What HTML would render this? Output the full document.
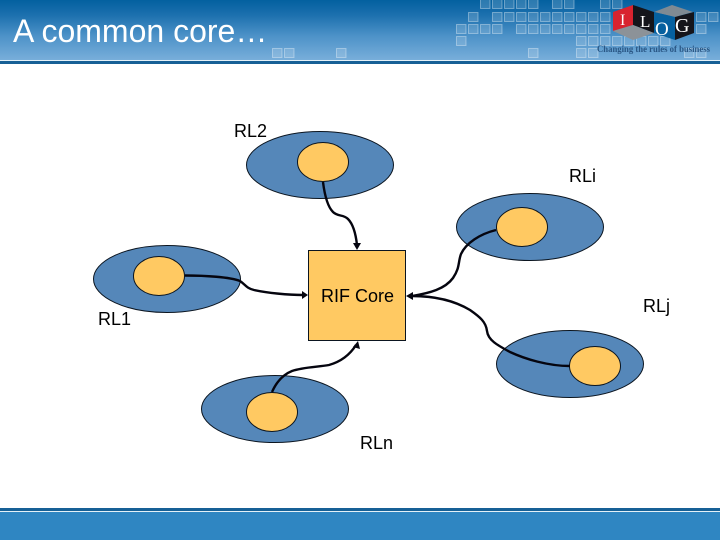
<!DOCTYPE html>
<html>
<head>
<meta charset="utf-8">
<style>
html,body{margin:0;padding:0;background:#fff}
svg{display:block}
text{font-family:"Liberation Sans",sans-serif}
.s{font-family:"Liberation Serif",serif}
</style>
</head>
<body>
<svg width="720" height="540" viewBox="0 0 720 540" xmlns="http://www.w3.org/2000/svg">
<defs>
<linearGradient id="h" x1="0" y1="0" x2="0" y2="1">
<stop offset="0" stop-color="#03609f"/>
<stop offset="0.25" stop-color="#1c70ae"/>
<stop offset="0.6" stop-color="#4d92c8"/>
<stop offset="1" stop-color="#78aeda"/>
</linearGradient>
</defs>
<rect width="720" height="60" fill="url(#h)"/>
<rect y="60" width="720" height="1" fill="#e4f1f8"/>
<rect y="61" width="720" height="3" fill="#176096"/>
<g fill="#fff" fill-opacity="0.16" stroke="#fff" stroke-opacity="0.35">
<rect x="272.5" y="48.5" width="9.5" height="9"/><rect x="284.5" y="48.5" width="9.5" height="9"/><rect x="336.5" y="48.5" width="9.5" height="9"/>
<rect x="480.5" y="-1" width="9.5" height="9.5"/><rect x="492.5" y="-1" width="9.5" height="9.5"/><rect x="504.5" y="-1" width="9.5" height="9.5"/><rect x="516.5" y="-1" width="9.5" height="9.5"/><rect x="528.5" y="-1" width="9.5" height="9.5"/><rect x="552.5" y="-1" width="9.5" height="9.5"/><rect x="564.5" y="-1" width="9.5" height="9.5"/><rect x="600.5" y="-1" width="9.5" height="9.5"/><rect x="612.5" y="-1" width="9.5" height="9.5"/>
<rect x="468.5" y="12.5" width="9.5" height="9"/><rect x="492.5" y="12.5" width="9.5" height="9"/><rect x="504.5" y="12.5" width="9.5" height="9"/><rect x="516.5" y="12.5" width="9.5" height="9"/><rect x="528.5" y="12.5" width="9.5" height="9"/><rect x="540.5" y="12.5" width="9.5" height="9"/><rect x="552.5" y="12.5" width="9.5" height="9"/><rect x="564.5" y="12.5" width="9.5" height="9"/><rect x="576.5" y="12.5" width="9.5" height="9"/><rect x="588.5" y="12.5" width="9.5" height="9"/><rect x="600.5" y="12.5" width="9.5" height="9"/>
<rect x="456.5" y="24.5" width="9.5" height="9"/><rect x="468.5" y="24.5" width="9.5" height="9"/><rect x="480.5" y="24.5" width="9.5" height="9"/><rect x="492.5" y="24.5" width="9.5" height="9"/><rect x="516.5" y="24.5" width="9.5" height="9"/><rect x="528.5" y="24.5" width="9.5" height="9"/><rect x="540.5" y="24.5" width="9.5" height="9"/><rect x="552.5" y="24.5" width="9.5" height="9"/><rect x="564.5" y="24.5" width="9.5" height="9"/><rect x="576.5" y="24.5" width="9.5" height="9"/><rect x="588.5" y="24.5" width="9.5" height="9"/><rect x="600.5" y="24.5" width="9.5" height="9"/>
<rect x="456.5" y="36.5" width="9.5" height="9"/><rect x="576.5" y="36.5" width="9.5" height="9"/><rect x="588.5" y="36.5" width="9.5" height="9"/><rect x="600.5" y="36.5" width="9.5" height="9"/><rect x="612.5" y="36.5" width="9.5" height="9"/><rect x="624.5" y="36.5" width="9.5" height="9"/><rect x="636.5" y="36.5" width="9.5" height="9"/><rect x="648.5" y="36.5" width="9.5" height="9"/><rect x="660.5" y="36.5" width="9.5" height="9"/>
<rect x="528.5" y="48.5" width="9.5" height="9"/><rect x="576.5" y="48.5" width="9.5" height="9"/><rect x="588.5" y="48.5" width="9.5" height="9"/><rect x="684.5" y="48.5" width="9.5" height="9"/><rect x="696.5" y="48.5" width="9.5" height="9"/>
<rect x="696.5" y="12.5" width="9.5" height="9"/><rect x="708.5" y="12.5" width="9.5" height="9"/><rect x="696.5" y="24.5" width="9.5" height="9"/>
</g>
<!-- logo -->
<polygon points="613,12 633,5 633,25 613,31" fill="#d8232f"/>
<polygon points="633,5 654,12 654,33 633,25" fill="#15151b"/>
<polygon points="654,12 672,5 693,12 675,17" fill="#7f8a93"/>
<polygon points="654,12 675,17 675,40 654,33" fill="#06609f"/>
<polygon points="675,17 694,12 694,33 675,40" fill="#15151b"/>
<polygon points="613,31 633,25 654,33 633,40" fill="#8c9298"/>
<text class="s" x="620" y="25" font-size="16" fill="#fff">I</text>
<text class="s" x="640" y="27" font-size="17" fill="#fff">L</text>
<text class="s" x="655" y="35" font-size="19" fill="#fff">O</text>
<text class="s" x="675" y="32" font-size="20" fill="#fff">G</text>
<text class="s" x="597" y="52" font-size="9" font-weight="bold" fill="#2a5785" textLength="113" lengthAdjust="spacingAndGlyphs">Changing the rules of business</text>

<text x="13" y="42" font-size="32" fill="#fff">A common core…</text>

<rect y="508" width="720" height="3" fill="#176096"/>
<rect y="511" width="720" height="1" fill="#e4f1f8"/>
<rect y="512" width="720" height="28" fill="#2f86c2"/>

<g fill="#5587b9" stroke="#0b1520" stroke-width="1">
<ellipse cx="320" cy="165" rx="73.5" ry="33.5"/>
<ellipse cx="530" cy="227" rx="73.5" ry="33.5"/>
<ellipse cx="167" cy="279" rx="73.5" ry="33.5"/>
<ellipse cx="275" cy="409" rx="73.5" ry="33.5"/>
<ellipse cx="570" cy="364" rx="73.5" ry="33.5"/>
</g>
<g fill="#ffc962" stroke="#0b1520" stroke-width="1">
<ellipse cx="323" cy="162" rx="25.5" ry="19.5"/>
<ellipse cx="522" cy="227" rx="25.5" ry="19.5"/>
<ellipse cx="159" cy="276" rx="25.5" ry="19.5"/>
<ellipse cx="272" cy="412" rx="25.5" ry="19.5"/>
<ellipse cx="595" cy="366" rx="25.5" ry="19.5"/>
<rect x="308.5" y="250.5" width="97" height="90"/>
</g>

<g fill="none" stroke="#05050f" stroke-width="2.4">
<path d="M323 182C325 198 328 207 333 212C338 217 343 214 348 219C354 225 356 236 357 245"/>
<path d="M185 275.5C205 275.5 230 277 240 281C246 285 246 288 254 290C268 293 288 295 303 295"/>
<path d="M272 392C276 383 282 375 292 371C303 367 318 367 329 365C343 361 351 353 356 345"/>
<path d="M496 230C480 234 466 243 461 254C458 262 460 268 453 278C445 289 430 293 412 296"/>
<path d="M570 366C548 366 525 359 510 352C497 345 488 340 487 331C486 322 480 317 470 310C455 301 435 296 412 296"/>
</g>
<g fill="#05050f">
<polygon points="357,250 353,243 361,243"/>
<polygon points="308,295 302,291 302,299"/>
<polygon points="358,341 353,347 360,349"/>
<polygon points="406,296 413,292 413,300"/>
</g>

<g font-size="18" fill="#000">
<text x="234" y="137">RL2</text>
<text x="569" y="182">RLi</text>
<text x="98" y="325">RL1</text>
<text x="321" y="302">RIF Core</text>
<text x="643" y="312">RLj</text>
<text x="360" y="449">RLn</text>
</g>
</svg>
</body>
</html>
